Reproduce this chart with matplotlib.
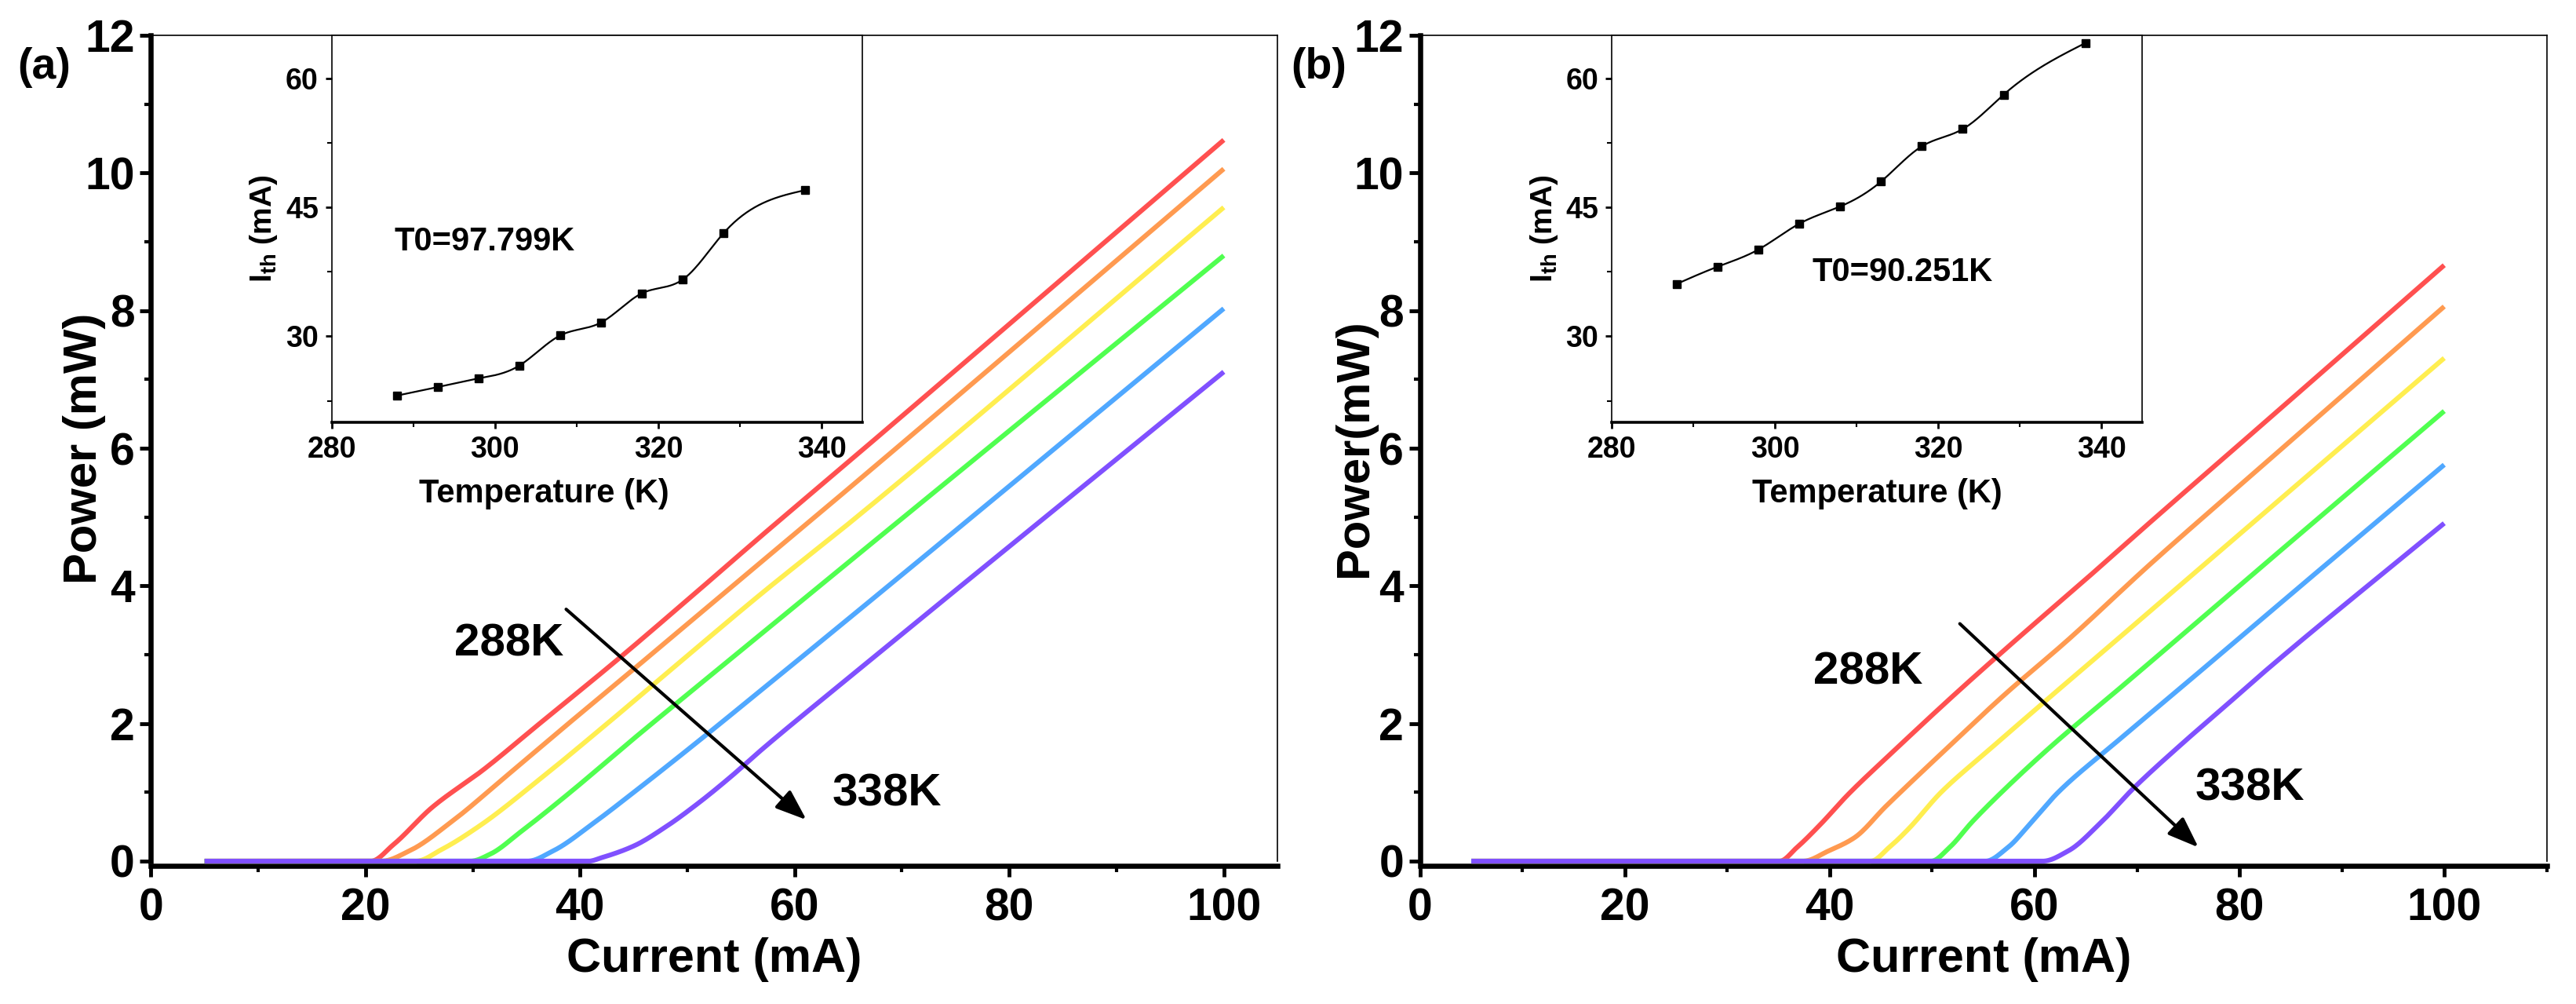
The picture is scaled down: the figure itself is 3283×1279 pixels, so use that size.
import numpy as np
import matplotlib
matplotlib.use("Agg")
import matplotlib.pyplot as plt
from matplotlib.ticker import MultipleLocator

plt.rcParams['font.family'] = ['Liberation Sans', 'DejaVu Sans']
plt.rcParams['font.weight'] = 'bold'
plt.rcParams['axes.labelweight'] = 'bold'
plt.rcParams['mathtext.fontset'] = 'custom'
plt.rcParams['mathtext.rm'] = 'Liberation Sans:bold'
plt.rcParams['mathtext.bf'] = 'Liberation Sans:bold'
plt.rcParams['mathtext.it'] = 'Liberation Sans:bold'

# ---- data ----
temps_label = ["288K", "338K"]
colors = ["#FF5050", "#FF9A50", "#FFEE50", "#50FF50", "#50A8FF", "#8050FF"]

# panel (a): current (mA) / power (mW) for 288K ... 338K
cur_a = [
    [5, 20.5, 22.6, 26.2, 31, 36, 43.5, 51, 57, 65, 100],
    [5, 21.5, 24.1, 28, 33, 39, 45, 54, 65, 100],
    [5, 24.7, 27.1, 30.7, 36, 42, 48, 57, 65, 100],
    [5, 29.8, 31.6, 34.5, 39, 45, 51, 60, 65, 100],
    [5, 35.1, 37.5, 41.4, 45, 51, 57, 65, 100],
    [5, 40.8, 42, 45, 48, 51, 54, 57, 65, 100],
]
pow_a = [
    [0, 0, 0.24, 0.78, 1.33, 1.97, 2.93, 3.93, 4.74, 5.80, 10.48],
    [0, 0, 0.15, 0.57, 1.22, 2.01, 2.79, 3.97, 5.41, 10.06],
    [0, 0, 0.17, 0.52, 1.16, 1.93, 2.72, 3.90, 4.90, 9.50],
    [0, 0, 0.10, 0.43, 0.99, 1.78, 2.55, 3.70, 4.34, 8.80],
    [0, 0, 0.15, 0.57, 1.00, 1.74, 2.50, 3.52, 8.03],
    [0, 0, 0.05, 0.22, 0.50, 0.84, 1.22, 1.63, 2.66, 7.11],
]

# panel (b)
cur_b = [
    [5, 35.1, 36.8, 39, 41.8, 46.1, 52.4, 58.6, 64.8, 71.1, 82.5, 100],
    [5, 37.4, 39.9, 42.4, 45.5, 50.8, 57, 63.3, 71.1, 82.5, 100],
    [5, 44, 45.8, 47.7, 50.8, 55.5, 61.7, 67.9, 75.7, 82.5, 100],
    [5, 49.9, 51.7, 53.9, 56.7, 61.7, 67.9, 74.2, 82.5, 100],
    [5, 55.2, 57.4, 59.6, 62.3, 67.9, 74.2, 82.5, 100],
    [5, 60.8, 63.3, 66.4, 69.6, 74.2, 78.9, 82.5, 100],
]
pow_b = [
    [0, 0, 0.20, 0.52, 0.97, 1.58, 2.45, 3.27, 4.07, 4.90, 6.38, 8.66],
    [0, 0, 0.15, 0.34, 0.80, 1.55, 2.41, 3.22, 4.29, 5.78, 8.06],
    [0, 0, 0.20, 0.47, 0.99, 1.61, 2.41, 3.20, 4.20, 5.07, 7.31],
    [0, 0, 0.20, 0.57, 0.99, 1.68, 2.46, 3.26, 4.32, 6.54],
    [0, 0, 0.20, 0.55, 1.00, 1.72, 2.51, 3.56, 5.76],
    [0, 0, 0.15, 0.55, 1.05, 1.68, 2.29, 2.76, 4.91],
]

# insets: threshold current vs temperature
temp_k = [288, 293, 298, 303, 308, 313, 318, 323, 328, 338]
ith_a = [23.1, 24.1, 25.1, 26.6, 30.1, 31.6, 35.0, 36.6, 42.0, 47.0]
ith_b = [36.1, 38.1, 40.1, 43.1, 45.1, 48.0, 52.1, 54.1, 58.1, 64.1]
t0_a = "T0=97.799K"
t0_b = "T0=90.251K"


def spline(x, y, n=300):
    # natural cubic spline through the points, only for drawing the line
    x = np.asarray(x, float)
    y = np.asarray(y, float)
    h = np.diff(x)
    m = len(x)
    A = np.zeros((m, m))
    r = np.zeros(m)
    A[0, 0] = A[-1, -1] = 1
    for i in range(1, m - 1):
        A[i, i - 1] = h[i - 1]
        A[i, i] = 2 * (h[i - 1] + h[i])
        A[i, i + 1] = h[i]
        r[i] = 6 * ((y[i + 1] - y[i]) / h[i] - (y[i] - y[i - 1]) / h[i - 1])
    M = np.linalg.solve(A, r)
    xs = np.linspace(x[0], x[-1], n)
    k = np.clip(np.searchsorted(x, xs) - 1, 0, m - 2)
    t1 = x[k + 1] - xs
    t2 = xs - x[k]
    ys = (M[k] * t1 ** 3 + M[k + 1] * t2 ** 3) / (6 * h[k]) \
        + (y[k] / h[k] - M[k] * h[k] / 6) * t1 \
        + (y[k + 1] / h[k] - M[k + 1] * h[k] / 6) * t2
    return xs, ys


def pchip(x, y, n=800):
    # monotone cubic line through the points (no overshoot at the knee)
    x = np.asarray(x, float)
    y = np.asarray(y, float)
    h = np.diff(x)
    d = np.diff(y) / h
    m = np.zeros(len(x))
    m[0] = d[0]
    m[-1] = d[-1]
    for k in range(1, len(x) - 1):
        if d[k - 1] * d[k] > 0:
            w1 = 2 * h[k] + h[k - 1]
            w2 = h[k] + 2 * h[k - 1]
            m[k] = (w1 + w2) / (w1 / d[k - 1] + w2 / d[k])
    xs = np.linspace(x[0], x[-1], n)
    k = np.clip(np.searchsorted(x, xs) - 1, 0, len(x) - 2)
    t = (xs - x[k]) / h[k]
    h00 = 2 * t ** 3 - 3 * t ** 2 + 1
    h10 = t ** 3 - 2 * t ** 2 + t
    h01 = -2 * t ** 3 + 3 * t ** 2
    h11 = t ** 3 - t ** 2
    ys = h00 * y[k] + h10 * h[k] * m[k] + h01 * y[k + 1] + h11 * h[k] * m[k + 1]
    return xs, ys


fig = plt.figure(figsize=(32.83, 12.79), dpi=100)

W = 0.4373
H = 0.8225
panels = [
    dict(left=0.0586, xmax=105, cur=cur_a, pw=pow_a, ith=ith_a, t0=t0_a, t0_pos=(287.7, 41.0),
         tag="(a)", tag_x=0.0172, ylab="Power (mW)", ylab_x=-0.040,
         arrow=((38.7, 3.66), (61.1, 0.60)), lab288=(33.4, 3.15), lab338=(68.6, 0.98),
         inset_left=0.1287, inset_xlab_x=0.40),
    dict(left=0.5513, xmax=110, cur=cur_b, pw=pow_b, ith=ith_b, t0=t0_b, t0_pos=(304.6, 37.4),
         tag="(b)", tag_x=0.512, ylab="Power(mW)", ylab_x=-0.039,
         arrow=((52.7, 3.45), (76.0, 0.20)), lab288=(43.75, 2.74), lab338=(81.0, 1.05),
         inset_left=0.6256, inset_xlab_x=0.50),
]

for p in panels:
    ax = fig.add_axes([p["left"], 0.1423, W, H])
    for c, pw, col in zip(p["cur"], p["pw"], colors):
        xs, ys = pchip(c, pw)
        ax.plot(xs, ys, color=col, lw=4.4, solid_capstyle='butt', zorder=3, clip_on=False)

    ax.set_xlim(0, p["xmax"])
    ax.set_ylim(0, 12)
    ax.xaxis.set_major_locator(MultipleLocator(20))
    ax.xaxis.set_minor_locator(MultipleLocator(10))
    ax.yaxis.set_major_locator(MultipleLocator(2))
    ax.yaxis.set_minor_locator(MultipleLocator(1))
    ax.tick_params(which='major', direction='out', length=10, width=3.5, labelsize=41)
    ax.tick_params(which='minor', direction='out', length=6, width=3)
    ax.tick_params(axis='x', which='major', pad=10)
    ax.tick_params(axis='y', which='major', pad=5)
    for s in ['left', 'bottom']:
        ax.spines[s].set_linewidth(4.7)
    for s in ['top', 'right']:
        ax.spines[s].set_linewidth(1.2)
    ax.spines['bottom'].set_position(('outward', 4))

    ax.set_xlabel("Current (mA)", fontsize=44)
    ax.xaxis.set_label_coords(0.5, -0.092)
    ax.set_ylabel(p["ylab"], fontsize=43)
    ax.yaxis.set_label_coords(p["ylab_x"], 0.5)

    (x0, y0), (x1, y1) = p["arrow"]
    ax.annotate("", xy=(x1, y1), xytext=(x0, y0),
                arrowprops=dict(arrowstyle='-|>,head_length=1.2,head_width=0.45',
                                color='black', lw=3, mutation_scale=20,
                                shrinkA=0, shrinkB=0), zorder=5)
    ax.text(*p["lab288"], temps_label[0], fontsize=42, ha='center', va='center')
    ax.text(*p["lab338"], temps_label[1], fontsize=42, ha='center', va='center')

    fig.text(p["tag_x"], 0.933, p["tag"], fontsize=40, ha='center', va='center')

    # inset
    ins = fig.add_axes([p["inset_left"], 0.5794, 0.2061, 0.3854])
    xs, ys = spline(temp_k, p["ith"])
    ins.plot(xs, ys, color='black', lw=1.6)
    ins.plot(temp_k, p["ith"], ls='none', marker='s', ms=7, color='black')
    ins.set_xlim(280, 345)
    ins.set_ylim(20, 65)
    ins.xaxis.set_major_locator(MultipleLocator(20))
    ins.xaxis.set_minor_locator(MultipleLocator(10))
    ins.yaxis.set_major_locator(MultipleLocator(15))
    ins.yaxis.set_minor_locator(MultipleLocator(7.5))
    ins.tick_params(which='major', direction='out', length=6, width=2, labelsize=27, pad=6)
    ins.tick_params(which='minor', direction='out', length=4, width=1.5)
    ins.spines['bottom'].set_linewidth(2.6)
    for s in ['left', 'top', 'right']:
        ins.spines[s].set_linewidth(1.2)
    ins.set_xlabel("Temperature (K)", fontsize=30)
    ins.xaxis.set_label_coords(p["inset_xlab_x"], -0.144)
    ins.set_ylabel(r"$\mathbf{I_{th}}$ (mA)", fontsize=28)
    ins.yaxis.set_label_coords(-0.098, 0.5)
    ins.text(*p["t0_pos"], p["t0"], fontsize=30, ha='left', va='center')

fig.savefig("out.png", dpi=100)
